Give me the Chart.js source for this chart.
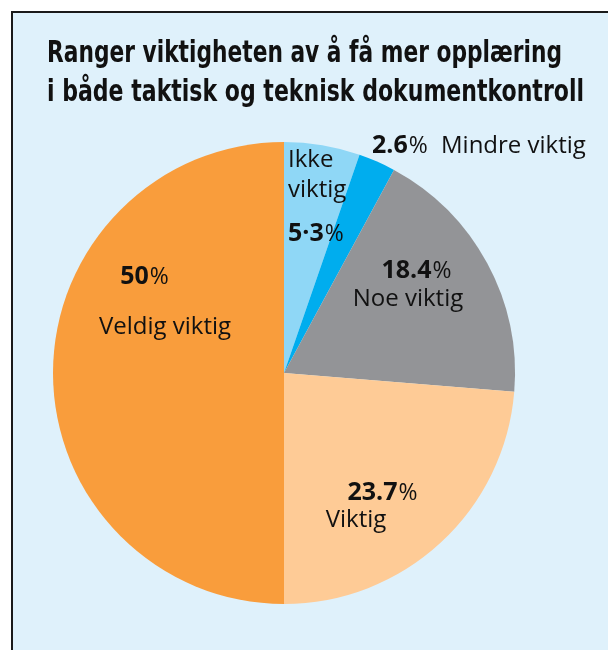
<!DOCTYPE html>
<html>
<head>
<meta charset="utf-8">
<script src="https://cdn.jsdelivr.net/npm/chart.js@4/dist/chart.umd.min.js"></script>
<style>
  html, body { margin: 0; padding: 0; background: #fff; overflow: hidden; }
  #panel {
    position: absolute; left: 11px; top: 11px; width: 640px; height: 680px;
    background: #dff1fb; border: 2px solid #1a1a1a;
  }
  #wrap { position: absolute; left: 0; top: 0; width: 608px; height: 650px; }
</style>
</head>
<body>
<div id="panel"></div>
<div id="wrap"><canvas id="pieChart" width="608" height="650"></canvas></div>
<script>
// data, clockwise from 12 o'clock
const categories = ["Ikke viktig", "Mindre viktig", "Noe viktig", "Viktig", "Veldig viktig"];
const shares = [5.3, 2.6, 18.4, 23.7, 50];
const shareLabels = ["5·3", "2.6", "18.4", "23.7", "50"];
const colors = ["#8fd7f6", "#00adee", "#939497", "#fecb96", "#f99d3c"];
const titleLines = ["Ranger viktigheten av å få mer opplæring", "i både taktisk og teknisk dokumentkontroll"];

// where each label sits, offsets from the pie centre (px)
const labelSpots = [
  { num: [4, -132, "left"], text: [[4, -206, "left", "Ikke"], [4, -176, "left", "viktig"]] },
  { num: [88, -220, "left"], text: [[157, -220, "left", "Mindre viktig"]] },
  { num: [132, -95, "center"], text: [[124, -67, "center", "Noe viktig"]] },
  { num: [98, 127, "center"], text: [[72, 154, "center", "Viktig"]] },
  { num: [-140, -89, "center"], text: [[-119, -39, "center", "Veldig viktig"]] }
];

const textFont = '"Open Sans", "Noto Sans", sans-serif';

function drawShare(ctx, str, x, y, align) {
  ctx.font = "bold 25px " + textFont;
  const wn = ctx.measureText(str).width;
  ctx.font = "23px " + textFont;
  const wp = ctx.measureText("%").width;
  let left = x;
  if (align === "center") left = x - (wn + wp) / 2;
  ctx.textAlign = "left";
  ctx.font = "bold 25px " + textFont;
  ctx.fillText(str, left, y);
  ctx.font = "23px " + textFont;
  ctx.fillText("%", left + wn + 1, y);
}

const labelPlugin = {
  id: "labels",
  afterDraw(chart) {
    const ctx = chart.ctx;
    const arc = chart.getDatasetMeta(0).data[0];
    const cx = arc.x, cy = arc.y;
    ctx.save();
    ctx.fillStyle = "#111";
    ctx.textBaseline = "alphabetic";

    // title, squeezed to the column width
    ctx.font = 'bold 30px "Liberation Sans Narrow", "DejaVu Sans Condensed", sans-serif';
    titleLines.forEach((line, i) => {
      const w = ctx.measureText(line).width;
      const target = i === 0 ? 515 : 537;
      ctx.save();
      ctx.translate(47, 62 + i * 39);
      ctx.scale(target / w, 1);
      ctx.textAlign = "left";
      ctx.fillText(line, 0, 0);
      ctx.restore();
    });

    labelSpots.forEach((spot, i) => {
      drawShare(ctx, shareLabels[i], cx + spot.num[0], cy + spot.num[1], spot.num[2]);
      ctx.font = "24px " + textFont;
      spot.text.forEach(t => {
        ctx.textAlign = t[2];
        ctx.fillText(t[3], cx + t[0], cy + t[1]);
      });
    });
    ctx.restore();
  }
};

new Chart(document.getElementById("pieChart"), {
  type: "pie",
  data: {
    labels: categories,
    datasets: [{
      data: shares,
      backgroundColor: colors,
      borderWidth: 0
    }]
  },
  options: {
    responsive: false,
    animation: false,
    layout: { padding: { left: 53, top: 142, right: 93, bottom: 46 } },
    plugins: {
      legend: { display: false },
      tooltip: { enabled: false }
    }
  },
  plugins: [labelPlugin]
});
</script>
</body>
</html>
